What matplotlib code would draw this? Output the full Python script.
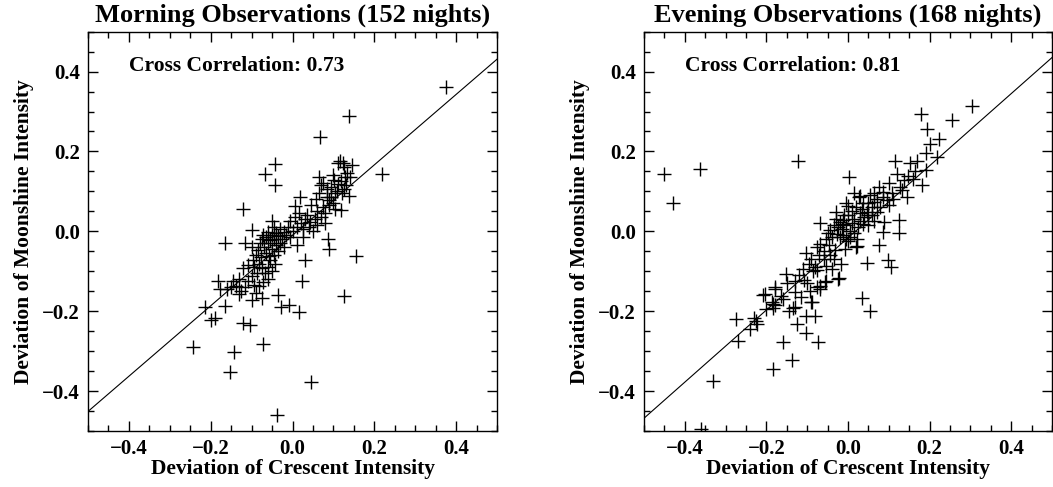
import numpy as np
import matplotlib
matplotlib.use("Agg")
import matplotlib.pyplot as plt
from matplotlib.ticker import MultipleLocator

# Morning observations (152 nights): deviation of crescent vs moonshine intensity
morning_crescent = [
    0.376, 0.138, 0.066, -0.042, -0.068, -0.042, 0.219, 0.117, 0.123, 0.146,
    0.133, 0.128, 0.065, 0.070, 0.111, 0.126, 0.139, 0.119, 0.065, 0.084,
    0.088, 0.103, 0.046, 0.018, 0.007, -0.120, -0.051, -0.098, -0.166, -0.117,
    0.087, 0.089, 0.155, 0.030, 0.023, -0.043, -0.055, -0.121, -0.096, -0.083,
    -0.100, -0.067, -0.181, -0.177, -0.138, -0.116, -0.083, -0.071, -0.132, -0.100,
    -0.074, -0.036, -0.029, -0.009, 0.016, 0.125, -0.215, -0.166, -0.199, -0.190,
    -0.120, -0.104, -0.071, -0.243, -0.143, -0.152, 0.044, -0.037, 0.112, 0.075,
    0.095, 0.102, 0.118, 0.108, 0.090, 0.100, 0.075, 0.058, 0.130, 0.121,
    0.095, 0.080, 0.060, 0.105, 0.043, 0.030, 0.020, 0.055, 0.060, 0.040,
    0.012, 0.025, 0.000, -0.010, -0.020, -0.030, -0.040, -0.050, -0.060, -0.065,
    -0.072, -0.055, -0.045, -0.035, -0.025, -0.015, -0.005, 0.010, -0.060, -0.070,
    -0.080, -0.085, -0.065, -0.050, -0.040, -0.030, -0.020, 0.005, 0.015, 0.035,
    -0.005, -0.045, 0.070, -0.075, -0.058, -0.078, -0.090, -0.045, -0.035, -0.095,
    -0.075, -0.060, -0.050, -0.088, -0.110, -0.130, -0.150, -0.145, -0.110, -0.095,
    -0.060, -0.125, -0.160, -0.090, 0.080, 0.050, 0.025, -0.100, 0.140, 0.125,
    0.098, 0.085,
]
morning_moonshine = [
    0.362, 0.288, 0.235, 0.168, 0.143, 0.115, 0.144, 0.177, 0.172, 0.165,
    0.145, 0.135, 0.137, 0.116, 0.118, 0.105, 0.089, 0.053, 0.095, 0.087,
    0.078, 0.095, 0.067, 0.087, 0.064, 0.057, 0.025, 0.004, -0.029, -0.029,
    -0.020, -0.044, -0.063, -0.071, -0.124, -0.082, -0.073, -0.092, -0.073, -0.082,
    -0.113, -0.104, -0.124, -0.145, -0.136, -0.140, -0.136, -0.128, -0.157, -0.172,
    -0.166, -0.159, -0.189, -0.184, -0.203, -0.161, -0.189, -0.187, -0.223, -0.218,
    -0.229, -0.235, -0.282, -0.290, -0.302, -0.353, -0.378, -0.460, 0.172, 0.121,
    0.110, 0.128, 0.125, 0.100, 0.065, 0.072, 0.060, 0.082, 0.115, 0.095,
    0.085, 0.045, 0.050, 0.055, 0.024, 0.030, 0.020, 0.030, 0.015, 0.012,
    0.010, 0.005, 0.002, 0.012, -0.002, 0.005, -0.005, -0.010, -0.002, -0.015,
    -0.008, -0.022, -0.018, -0.012, -0.020, -0.008, -0.015, -0.035, -0.030, -0.040,
    -0.030, -0.048, -0.055, -0.045, -0.035, -0.030, -0.040, 0.035, 0.045, 0.042,
    0.025, 0.010, 0.035, -0.020, -0.062, -0.065, -0.060, -0.060, -0.050, -0.090,
    -0.092, -0.090, -0.100, -0.105, -0.085, -0.120, -0.140, -0.125, -0.125, -0.135,
    -0.120, -0.150, -0.145, -0.155, 0.020, 0.000, -0.015, -0.040, 0.135, 0.160,
    0.140, 0.105,
]

# Evening observations (168 nights)
evening_crescent = [
    0.303, 0.178, 0.254, 0.193, 0.224, 0.200, 0.191, 0.217, -0.123, -0.362,
    -0.450, -0.430, 0.116, 0.152, 0.120, 0.148, 0.191, 0.181, 0.002, 0.128,
    0.132, 0.144, 0.107, 0.087, 0.063, 0.014, 0.026, 0.038, 0.063, 0.079,
    0.071, 0.046, 0.030, 0.000, -0.029, -0.069, -0.012, -0.011, -0.019, -0.043,
    -0.027, -0.011, 0.006, 0.022, 0.038, 0.050, 0.089, 0.124, 0.087, 0.126,
    0.075, -0.068, -0.077, -0.047, -0.031, -0.007, 0.022, -0.102, -0.096, -0.082,
    -0.059, -0.053, -0.016, 0.046, 0.099, 0.105, -0.151, -0.129, -0.108, -0.076,
    -0.076, -0.053, -0.068, -0.023, -0.178, -0.208, -0.165, -0.178, -0.186, -0.131,
    -0.129, -0.145, -0.092, -0.088, -0.103, -0.082, 0.034, 0.055, -0.275, -0.230,
    -0.222, -0.239, -0.269, -0.126, -0.104, -0.160, -0.073, -0.138, -0.183, -0.330,
    -0.361, 0.138, 0.029, 0.055, 0.070, 0.085, 0.095, 0.110, 0.100, 0.060,
    0.050, 0.035, 0.020, 0.010, 0.040, 0.060, 0.065, 0.030, 0.015, 0.000,
    -0.010, -0.030, -0.035, -0.025, -0.015, -0.005, 0.005, 0.015, -0.005, -0.020,
    -0.040, -0.055, 0.000, 0.020, 0.010, -0.050, -0.024, -0.057, -0.069, -0.090,
    -0.134, -0.183, -0.183, -0.204, -0.179, -0.150, -0.120, -0.110, -0.090, -0.085,
    -0.070, -0.060, -0.045, -0.035, -0.040, -0.100, -0.115, -0.160, -0.200, -0.225,
    0.165, 0.160, 0.170, 0.100, 0.075, 0.050, -0.005, 0.025,
]
evening_moonshine = [
    0.313, 0.295, 0.278, 0.255, 0.232, 0.219, 0.196, 0.187, 0.177, 0.156,
    0.144, 0.070, 0.175, 0.171, 0.144, 0.139, 0.154, 0.116, 0.135, 0.112,
    0.103, 0.087, 0.095, 0.099, 0.095, 0.095, 0.087, 0.070, 0.074, 0.061,
    0.049, 0.049, 0.045, 0.063, 0.049, 0.021, 0.028, 0.019, 0.024, 0.003,
    -0.006, -0.010, -0.014, -0.018, 0.019, 0.015, 0.024, 0.028, -0.002, -0.004,
    -0.035, -0.031, -0.039, -0.035, -0.048, -0.044, -0.038, -0.055, -0.082, -0.090,
    -0.069, -0.086, -0.082, -0.079, -0.073, -0.090, -0.107, -0.124, -0.122, -0.098,
    -0.140, -0.124, -0.136, -0.117, -0.140, -0.160, -0.161, -0.184, -0.178, -0.153,
    -0.189, -0.199, -0.150, -0.178, -0.213, -0.213, -0.167, -0.199, -0.220, -0.218,
    -0.233, -0.245, -0.275, -0.233, -0.255, -0.277, -0.277, -0.321, -0.346, -0.374,
    -0.495, 0.129, 0.088, 0.092, 0.080, 0.085, 0.078, 0.082, 0.065, 0.060,
    0.072, 0.055, 0.060, 0.050, 0.035, 0.040, 0.025, 0.025, 0.030, 0.040,
    0.040, 0.030, 0.015, 0.010, 0.005, 0.015, 0.000, -0.005, -0.020, -0.015,
    -0.015, -0.020, -0.025, -0.039, 0.020, -0.005, -0.119, -0.128, -0.145, -0.178,
    -0.191, -0.182, -0.191, -0.157, -0.145, -0.130, -0.110, -0.095, -0.070, -0.100,
    -0.060, -0.050, -0.060, -0.070, -0.095, -0.130, -0.165, -0.170, -0.195, -0.225,
    0.150, 0.130, 0.175, 0.120, 0.110, 0.040, 0.070, 0.010,
]

panel_titles = ["Morning Observations (152 nights)", "Evening Observations (168 nights)"]
correlations = [0.73, 0.81]
fit_slopes = [0.882, 0.903]
fit_intercepts = [-0.010, -0.0165]
tick_values = [-0.4, -0.2, 0.0, 0.2, 0.4]

plt.rcParams["font.family"] = ["Liberation Serif", "DejaVu Serif"]
plt.rcParams["font.weight"] = "bold"
plt.rcParams["axes.labelweight"] = "bold"
plt.rcParams["axes.titleweight"] = "bold"

fig = plt.figure(figsize=(10.53, 4.87), dpi=100)
ax1 = fig.add_axes([0.0836, 0.115, 0.3884, 0.820])
ax2 = fig.add_axes([0.6116, 0.115, 0.3874, 0.820])

datasets = [(morning_crescent, morning_moonshine), (evening_crescent, evening_moonshine)]

for i, ax in enumerate([ax1, ax2]):
    xs, ys = datasets[i]
    ax.plot(xs, ys, linestyle="none", marker="+", markersize=10,
            markeredgewidth=1.0, color="black")

    line_x = np.array([-0.5, 0.5])
    ax.plot(line_x, fit_slopes[i] * line_x + fit_intercepts[i],
            color="black", linewidth=0.8)

    ax.set_xlim(-0.5, 0.5)
    ax.set_ylim(-0.5, 0.5)
    ax.set_xticks(tick_values)
    ax.set_yticks(tick_values)
    ax.set_xticklabels([f"{v:.1f}".replace("-", "\u2212") for v in tick_values])
    ax.set_yticklabels([f"{v:.1f}".replace("-", "\u2212") for v in tick_values])
    ax.xaxis.set_minor_locator(MultipleLocator(0.05))
    ax.yaxis.set_minor_locator(MultipleLocator(0.05))
    ax.tick_params(which="both", direction="in", top=True, right=True,
                   labelsize=15, width=1.0)
    ax.tick_params(which="major", length=7, pad=6)
    ax.tick_params(which="minor", length=4)
    for sp in ax.spines.values():
        sp.set_linewidth(1.0)

    ax.set_title(panel_titles[i], fontsize=19, pad=7)
    ax.set_xlabel("Deviation of Crescent Intensity", fontsize=15.5, labelpad=0)
    ax.set_ylabel("Deviation of Moonshine Intensity", fontsize=15.5, labelpad=6)
    ax.text(-0.40, 0.415, f"Cross Correlation: {correlations[i]:.2f}",
            fontsize=15.5, va="center", ha="left")

fig.savefig("out.png", dpi=100)
